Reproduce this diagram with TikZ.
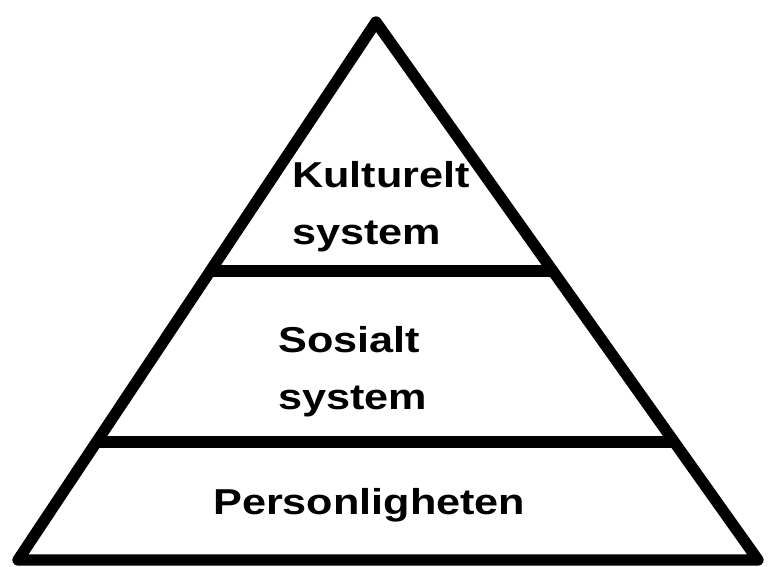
\documentclass[tikz,border=0pt]{standalone}
\usepackage{fontspec}
\setmainfont[FakeStretch=1.2]{Liberation Sans}
\usepackage{tikz}
\tikzstyle{label} = [font=\fontsize{27}{42.75}\selectfont\bfseries, align=left, inner sep=0pt]
\tikzstyle{edge} = [line width=8.5pt, line join=round]

\begin{document}
\begin{tikzpicture}[x=0.75pt, y=-0.75pt]
    \useasboundingbox (0,0) rectangle (769,567);

\coordinate (top) at (376,22);
\coordinate (left) at (18,560);
\coordinate (right) at (758,560);
\draw [edge] (top) -- (left) -- (right) -- cycle;

\coordinate (ajoint) at (210,271);
\coordinate (bjoint) at (553,271);
\draw [edge] (ajoint) -- (bjoint);
\coordinate (cjoint) at (97,442);
\coordinate (djoint) at (674,442);
\draw [edge] (cjoint) -- (djoint);

\node (kultur) [label, anchor=north west] at (292,161) {Kulturelt\\system};
\node (sosial) [label, anchor=north west] at (278,326) {Sosialt\\system};
\node (person) [label, anchor=north west] at (213,488) {Personligheten};

\end{tikzpicture}
\end{document}
